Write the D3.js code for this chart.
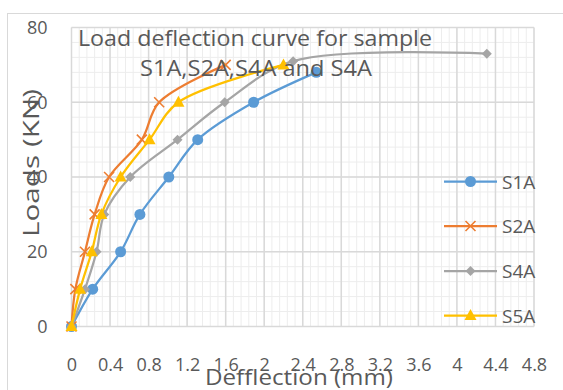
<!DOCTYPE html>
<html>

<head>
    <script type="text/javascript" src="https://d3js.org/d3.v7.min.js"></script>
    <style>
        body {
            margin: 0;
            font-family: "Open Sans", "Liberation Sans", Arial, sans-serif;
            background: white;
        }
    </style>
</head>

<body>
    <div id="svgcontainer">
    </div>
    <script language="javascript">
        var width = 563;
        var height = 390;
        var font = "Open Sans, Liberation Sans, Arial, sans-serif";

        // data
        var seriesNames = ["S1A", "S2A", "S4A", "S5A"];
        var seriesColors = ["#5B9BD5", "#ED7D31", "#A5A5A5", "#FFC000"];
        var s1aDefl = [0, 0.22, 0.51, 0.71, 1.01, 1.31, 1.89, 2.54];
        var s1aLoad = [0, 10, 20, 30, 40, 50, 60, 68];
        var s2aDefl = [0, 0.04, 0.14, 0.24, 0.39, 0.73, 0.91, 1.60];
        var s2aLoad = [0, 10, 20, 30, 40, 50, 60, 70];
        var s4aDefl = [0, 0.14, 0.26, 0.34, 0.61, 1.10, 1.59, 2.30, 4.31];
        var s4aLoad = [0, 10, 20, 30, 40, 50, 60, 71, 73];
        var s5aDefl = [0, 0.09, 0.21, 0.31, 0.51, 0.81, 1.11, 2.20];
        var s5aLoad = [0, 10, 20, 30, 40, 50, 60, 70];
        var xTicks = [0, 0.4, 0.8, 1.2, 1.6, 2, 2.4, 2.8, 3.2, 3.6, 4, 4.4, 4.8];
        var yTicks = [0, 20, 40, 60, 80];

        var allDefl = [s1aDefl, s2aDefl, s4aDefl, s5aDefl];
        var allLoad = [s1aLoad, s2aLoad, s4aLoad, s5aLoad];

        var svg = d3.select("#svgcontainer")
            .append("svg")
            .attr("width", width)
            .attr("height", height)
            .style("font-family", font);

        svg.append("rect").attr("width", width).attr("height", height).attr("fill", "white");
        // chart frame (runs off the right and bottom edges)
        svg.append("rect").attr("x", 7.5).attr("y", 13.5).attr("width", 600).attr("height", 400)
            .attr("fill", "none").attr("stroke", "#d9d9d9").attr("stroke-width", 1);

        var x = d3.scaleLinear().domain([0, 4.8]).range([71.5, 534]);
        var y = d3.scaleLinear().domain([0, 80]).range([326.5, 27.5]);

        // minor grid
        var grid = svg.append("g");
        grid.selectAll(".vminor").data(d3.range(0, 61)).enter().append("line")
            .attr("x1", d => x(d * 0.08)).attr("x2", d => x(d * 0.08))
            .attr("y1", y(0)).attr("y2", y(80))
            .attr("stroke", "#ededed").attr("stroke-width", 1);
        grid.selectAll(".hminor").data(d3.range(0, 21)).enter().append("line")
            .attr("y1", d => y(d * 4)).attr("y2", d => y(d * 4))
            .attr("x1", x(0)).attr("x2", x(4.8))
            .attr("stroke", "#ededed").attr("stroke-width", 1);
        // major grid
        grid.selectAll(".vmajor").data(xTicks).enter().append("line")
            .attr("x1", d => x(d)).attr("x2", d => x(d))
            .attr("y1", y(0)).attr("y2", y(80))
            .attr("stroke", "#d9d9d9").attr("stroke-width", 1.5);
        grid.selectAll(".hmajor").data(yTicks).enter().append("line")
            .attr("y1", d => y(d)).attr("y2", d => y(d))
            .attr("x1", x(0)).attr("x2", x(4.8))
            .attr("stroke", "#d9d9d9").attr("stroke-width", 1.5);

        // axes labels
        var xAxis = d3.axisBottom(x).tickValues(xTicks).tickSize(0).tickPadding(0).tickFormat(d3.format("~g"));
        var gx = svg.append("g").attr("transform", "translate(0,358)").call(xAxis);
        gx.select(".domain").remove();
        gx.selectAll("text").attr("font-size", 18).attr("fill", "#595959").attr("font-family", font);

        var yAxis = d3.axisLeft(y).tickValues(yTicks).tickSize(0).tickPadding(24);
        var gy = svg.append("g").attr("transform", "translate(71.5,0)").call(yAxis);
        gy.select(".domain").remove();
        gy.selectAll("text").attr("font-size", 18).attr("fill", "#595959").attr("font-family", font);

        // lines + markers
        var line = d3.line()
            .x(d => x(d[0]))
            .y(d => y(d[1]))
            .curve(d3.curveCatmullRom.alpha(0.5));

        function drawMarker(g, kind, cx, cy, color) {
            if (kind === 0) {
                g.append("circle").attr("cx", cx).attr("cy", cy).attr("r", 5.5).attr("fill", color);
            } else if (kind === 1) {
                g.append("path").attr("d", `M${cx - 5},${cy - 5}L${cx + 5},${cy + 5}M${cx - 5},${cy + 5}L${cx + 5},${cy - 5}`)
                    .attr("stroke", color).attr("stroke-width", 1.6).attr("fill", "none");
            } else if (kind === 2) {
                g.append("path").attr("d", `M${cx},${cy - 5}L${cx + 5},${cy}L${cx},${cy + 5}L${cx - 5},${cy}Z`)
                    .attr("fill", color);
            } else {
                g.append("path").attr("d", `M${cx},${cy - 6.5}L${cx + 6},${cy + 4.5}L${cx - 6},${cy + 4.5}Z`)
                    .attr("fill", color);
            }
        }

        for (var i = 0; i < seriesNames.length; i++) {
            var pts = allDefl[i].map((d, j) => [d, allLoad[i][j]]);
            var g = svg.append("g");
            g.append("path").attr("d", line(pts)).attr("fill", "none")
                .attr("stroke", seriesColors[i]).attr("stroke-width", 2.25);
            for (var p of pts) {
                drawMarker(g, i, x(p[0]), y(p[1]), seriesColors[i]);
            }
        }

        // legend
        var legY = [181.5, 226, 271, 315.5];
        for (var k = 0; k < seriesNames.length; k++) {
            var lg = svg.append("g");
            lg.append("line").attr("x1", 444).attr("x2", 497).attr("y1", legY[k]).attr("y2", legY[k])
                .attr("stroke", seriesColors[k]).attr("stroke-width", 2.25);
            drawMarker(lg, k, 470.5, legY[k], seriesColors[k]);
            lg.append("text").attr("x", 502).attr("y", legY[k] + 7).attr("font-size", 19)
                .attr("fill", "#595959").text(seriesNames[k]);
        }

        // title
        svg.append("text").attr("x", 78).attr("y", 46).attr("font-size", 21).attr("fill", "#595959")
            .attr("textLength", 354).attr("lengthAdjust", "spacingAndGlyphs")
            .text("Load deflection curve for sample");
        svg.append("text").attr("x", 140).attr("y", 76).attr("font-size", 21).attr("fill", "#595959")
            .attr("textLength", 232).attr("lengthAdjust", "spacingAndGlyphs")
            .text("S1A,S2A,S4A and S4A");

        // axis titles
        svg.append("text").attr("x", 205).attr("y", 385).attr("font-size", 22).attr("fill", "#595959")
            .attr("textLength", 188).attr("lengthAdjust", "spacingAndGlyphs")
            .text("Defflection (mm)");
        svg.append("text").attr("transform", "translate(39,237) rotate(-90)")
            .attr("font-size", 21).attr("fill", "#595959")
            .attr("textLength", 148).attr("lengthAdjust", "spacingAndGlyphs")
            .text("Loads (KN)");
    </script>
</body>

</html>
